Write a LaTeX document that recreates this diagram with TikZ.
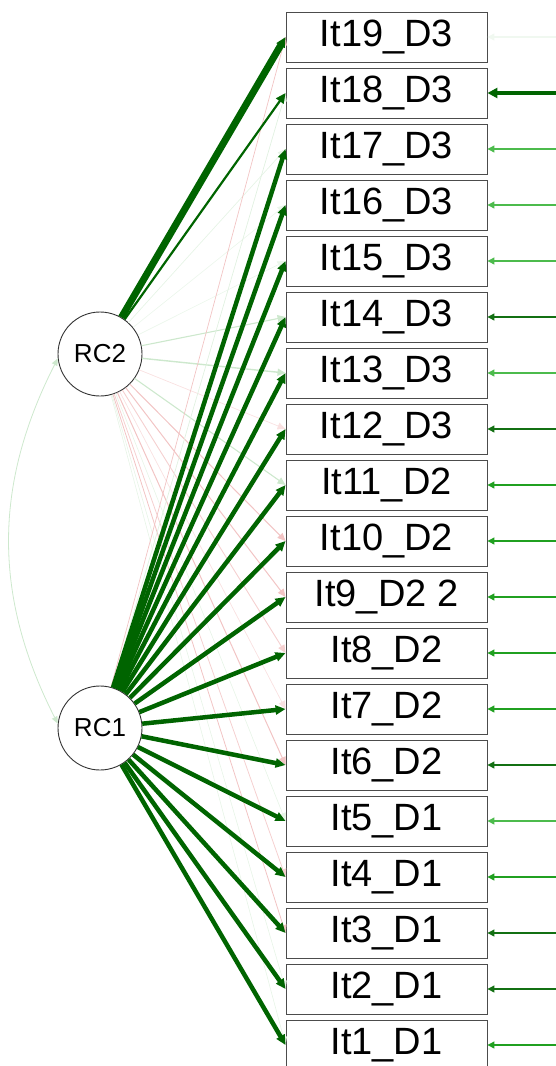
\documentclass[tikz,border=0pt]{standalone}
\usepackage{fontspec}
\setmainfont{Liberation Sans}
\usetikzlibrary{arrows.meta}
\definecolor{dkg}{HTML}{006400}
\definecolor{resL}{HTML}{4CBB4C}
\definecolor{resM}{HTML}{20A020}
\definecolor{resD}{HTML}{137013}
\definecolor{fgreen}{HTML}{CDE8CD}
\definecolor{fred}{HTML}{F2C4C4}
\tikzset{
  item/.style={draw=black!70,line width=0.9pt,minimum width=201pt,minimum height=50pt,inner sep=0pt,font=\fontsize{38}{38}\selectfont},
  latent/.style={circle,draw=black!80,line width=0.9pt,minimum size=84pt,inner sep=0pt,font=\fontsize{26}{26}\selectfont},
  load/.style={-{Triangle[length=10pt,width=9pt]},line width=#1,dkg},
  faint/.style 2 args={-{Triangle[length=8pt,width=7pt]},line width=#1,#2},
  resid/.style={-{Triangle[length=7pt,width=7pt]},line width=1.2pt,#1},
}
\begin{document}
\begin{tikzpicture}[x=1pt,y=-1pt]
\useasboundingbox (0,0) rectangle (556,1066);
% items
\foreach \i/\t in {19/It19\_D3,18/It18\_D3,17/It17\_D3,16/It16\_D3,15/It15\_D3,14/It14\_D3,13/It13\_D3,12/It12\_D3,11/It11\_D2,10/It10\_D2,9/It9\_D2 2,8/It8\_D2,7/It7\_D2,6/It6\_D2,5/It5\_D1,4/It4\_D1,3/It3\_D1,2/It2\_D1,1/It1\_D1}{
  \pgfmathsetmacro{\yy}{37+(19-\i)*56}
  \node[item] (it\i) at (386.5,\yy) {\t};
  \coordinate (r\i) at (556,\yy);
}
\node[latent] (rc2) at (100,354) {RC2};
\node[latent] (rc1) at (100,728) {RC1};
% correlation
\draw[{Triangle[length=7pt,width=6pt]}-{Triangle[length=7pt,width=6pt]},line width=0.8pt,fgreen] (rc2.186) to[bend right=27] (rc1.174);
% faint cross-loadings
\foreach \i/\w/\c in {17/0.7/fgreen!50,16/0.6/fgreen!40,15/0.6/fgreen!40,14/1.1/fgreen,13/1.4/fgreen,12/0.7/fred!50,11/1.1/fgreen,10/1/fred,9/1/fred,8/0.9/fred!80,7/0.7/fred!50,6/1/fred,5/0.6/fgreen!50,4/0.8/fred!80,3/0.8/fred,2/0.6/fgreen!50,1/0.6/fgreen!50}{
  \draw[faint={\w pt}{\c}] (rc2) -- (it\i.west);
}
\draw[faint={0.7pt}{fred}] (rc1) -- (it19.west);
\draw[faint={0.7pt}{fgreen!60}] (rc1) -- (it18.west);
% main loadings
\draw[load=7pt] (rc2) -- (it19.west);
\draw[load=2.2pt] (rc2) -- (it18.west);
\foreach \i in {17,16,15,14,13,12,11,10,9,8,7,6,5,4,3,2,1}{
  \draw[load=4.5pt] (rc1) -- (it\i.west);
}
% residuals
\draw[-{Triangle[length=10pt,width=10pt]},line width=3.5pt,dkg] (r18) -- (it18.east);
\draw[resid=fgreen!30] (r19) -- (it19.east);
\foreach \i/\c in {17/resL,16/resL,15/resL,14/resD,13/resL,12/resD,11/resM,10/resM,9/resM,8/resM,7/resM,6/resD,5/resL,4/resM,3/resD,2/resD,1/resM}{
  \draw[resid=\c] (r\i) -- (it\i.east);
}
\end{tikzpicture}
\end{document}
